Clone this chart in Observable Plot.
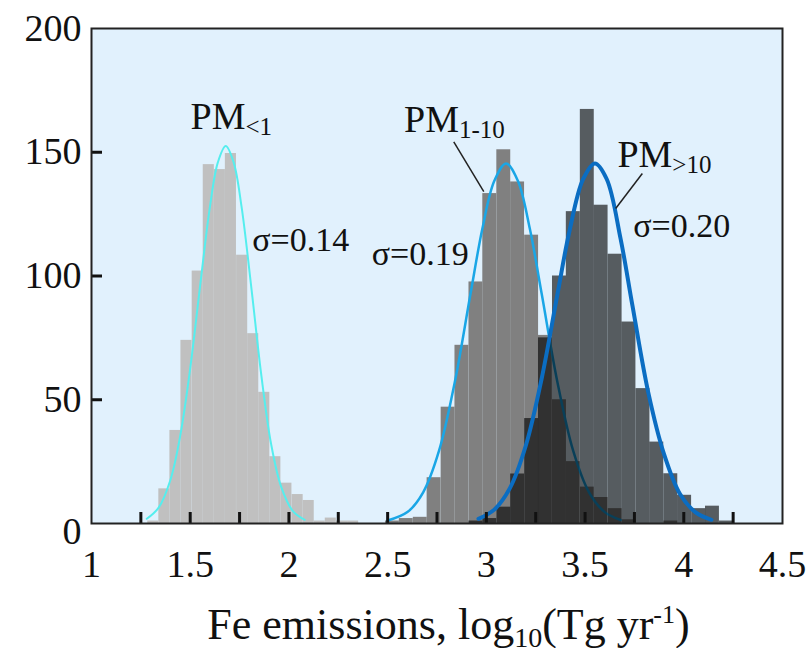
<!DOCTYPE html>
<html><head><meta charset="utf-8">
<script src="https://cdn.jsdelivr.net/npm/d3@7"></script>
<script src="https://cdn.jsdelivr.net/npm/@observablehq/plot@0.6"></script>
<style>
body{margin:0;background:#fff;font-family:"Liberation Serif",serif;}
#chart svg{display:block}
.xlabel{width:715px;margin-left:91px;text-align:center;font-size:44px;line-height:46px;color:#111;white-space:nowrap;margin-top:-4px}
.xlabel sub{font-size:28px;vertical-align:-8px;line-height:0}
.xlabel sup{font-size:26px;vertical-align:16px;line-height:0}
</style></head><body>
<div id="chart"></div>
<div class="xlabel">Fe emissions, log<sub>10</sub>(Tg yr<sup>-1</sup>)</div>
<script>
// ---- data ----
const pm1Width = 0.0562;
const pm1Start = [1.285,1.341,1.397,1.453,1.510,1.566,1.622,1.678,1.735,1.791,1.847,1.903,1.959,2.016,2.072,2.128,2.184,2.241,2.297];
const pm1Counts = [1,14,37.6,74,102,145,143,149.5,108.4,76.7,53,27,16.3,11.7,9.3,1,2.2,1,1];

const coarseWidth = 0.0705;
const pm110Start = [2.489,2.559,2.630,2.700,2.771,2.841,2.912,2.982,3.053,3.123,3.194,3.264,3.335,3.405,3.476,3.546,3.617,3.687,3.758,3.828,3.899];
const pm110Counts = [1,2,2.5,18.5,47,72,97.6,133.3,151,138,116.5,76,50,25,14.7,10.5,6,1.5,0,0,1];

const pm10Start = [2.912,2.982,3.053,3.123,3.194,3.264,3.335,3.405,3.476,3.546,3.617,3.687,3.758,3.828,3.899,3.969,4.040,4.110,4.181];
const pm10Counts = [1,2,6.6,20,42.4,75,100,126,167.3,128.6,108.8,81.4,54.5,32.9,20.1,11.4,6,7,1];

const fit1X = [1.28,1.34,1.40,1.45,1.50,1.55,1.60,1.64,1.68,1.72,1.76,1.81,1.86,1.91,1.96,2.02,2.08];
const fit1Y = [1.9,6.4,17.7,35.7,62.7,95.9,128,145.9,152.5,145.9,128,95,60,32,15,5,1.5];
const fit2X = [2.50,2.60,2.68,2.76,2.84,2.92,2.98,3.04,3.10,3.16,3.22,3.28,3.36,3.44,3.52,3.60,3.68];
const fit2Y = [1.2,4.6,12.6,29.3,57.1,92.9,119.2,138.4,145.5,138.4,119.2,92.9,57.1,29.3,12.6,4.6,1.4];
const fit3X = [2.96,3.04,3.12,3.20,3.28,3.36,3.42,3.49,3.55,3.61,3.68,3.74,3.82,3.90,3.98,4.06,4.14];
const fit3Y = [1.9,5.6,14.4,31.5,58.5,92.6,117.8,139.1,145.5,139.1,115,88,53,28,12,4.5,1.5];

const xTickLabels = [1,1.5,2,2.5,3,3.5,4,4.5];
const xMinorTicks = [1.25,1.5,1.75,2,2.25,2.5,2.75,3,3.25,3.5,3.75,4,4.25];
const yTickLabels = [50,100,150,200];
const yZeroLabel = [0];
const yInnerTicks = [50,100,150];

const sigmaText = ["σ=0.14","σ=0.19","σ=0.20"];
const sigmaX = [1.814,2.911,3.744];
const sigmaY = [110.1,104.3,115.8];
const sigmaAnchor = ["start","end","start"];

const pmSub = ["<1","1-10",">10"];
const pmX = [1.780,2.861,3.942];
const pmY = [159.2,158.3,144.1];

const leaderX1 = [2.835,3.790], leaderY1 = [154.2,141.4];
const leaderX2 = [2.987,3.655], leaderY2 = [134.1,127.3];

// ---- build ----
const W=806, H=606, mL=91, mR=24, mT=28, mB=83;
const innerH = H-mT-mB, innerW = W-mL-mR;
const bins = (starts, counts, w) => starts.map((x,i)=>({x1:x, x2:x+w, y:counts[i]}));
const pts = (xs, ys) => xs.map((x,i)=>({x, y:ys[i]}));
const sigmas = sigmaText.map((t,i)=>({t, x:sigmaX[i], y:sigmaY[i], a:sigmaAnchor[i]}));
const pms = pmSub.map((s,i)=>({s, x:pmX[i], y:pmY[i]}));
const leaders = leaderX1.map((x,i)=>({x1:x, y1:leaderY1[i], x2:leaderX2[i], y2:leaderY2[i]}));
const sigmaMark = (anchor) => Plot.text(sigmas.filter(d=>d.a===anchor), {x:"x", y:"y", text:"t", textAnchor:anchor, lineAnchor:"bottom", fontSize:34, fill:"#111"});

const chart = Plot.plot({
  width: W, height: H, marginLeft: mL, marginRight: mR, marginTop: mT, marginBottom: mB,
  x: {domain:[1,4.5], label:null},
  y: {domain:[0,200], label:null},
  style: {fontFamily:'"Liberation Serif", serif', background:"white", color:"#111"},
  marks: [
    Plot.frame({fill:"#e1f1fd", stroke:null}),
    Plot.rectY(bins(pm1Start,pm1Counts,pm1Width), {x1:"x1", x2:"x2", y:"y", fill:"#c0c0c0"}),
    Plot.line(pts(fit1X,fit1Y), {x:"x", y:"y", stroke:"#55eeee", strokeWidth:2, curve:"catmull-rom"}),
    Plot.rectY(bins(pm110Start,pm110Counts,coarseWidth), {x1:"x1", x2:"x2", y:"y", fill:"#808080"}),
    Plot.line(pts(fit2X,fit2Y), {x:"x", y:"y", stroke:"#1aa6e6", strokeWidth:2.5, curve:"catmull-rom"}),
    Plot.rectY(bins(pm10Start,pm10Counts,coarseWidth), {x1:"x1", x2:"x2", y:"y", fill:"#000", fillOpacity:0.62}),
    Plot.line(pts(fit3X,fit3Y), {x:"x", y:"y", stroke:"#0b6dc2", strokeWidth:4, curve:"catmull-rom"}),
    Plot.tickX(xMinorTicks, {x:d=>d, stroke:"#111", strokeWidth:3, insetTop: innerH-11}),
    Plot.tickY(yInnerTicks, {y:d=>d, stroke:"#111", strokeWidth:3, insetRight: innerW-11}),
    Plot.frame({stroke:"#222", strokeWidth:2}),
    Plot.axisX({ticks:xTickLabels, tickSize:0, tickPadding:27, fontSize:38, label:null, tickFormat:d=>String(d)}),
    Plot.axisY({ticks:yTickLabels, tickSize:0, tickPadding:10, fontSize:38, label:null}),
    Plot.axisY({ticks:yZeroLabel, tickSize:0, tickPadding:10, fontSize:38, label:null, dy:8}),
    Plot.link(leaders, {x1:"x1", y1:"y1", x2:"x2", y2:"y2", stroke:"#222", strokeWidth:1.5}),
    sigmaMark("start"),
    sigmaMark("end"),
    Plot.text(pms, {x:"x", y:"y", text:()=>"PM", textAnchor:"end", lineAnchor:"bottom", fontSize:38, fill:"#111"}),
    Plot.text(pms, {x:"x", y:"y", text:"s", textAnchor:"start", lineAnchor:"bottom", dy:6, fontSize:25, fill:"#111"})
  ]
});
document.getElementById("chart").appendChild(chart);
</script></body></html>
